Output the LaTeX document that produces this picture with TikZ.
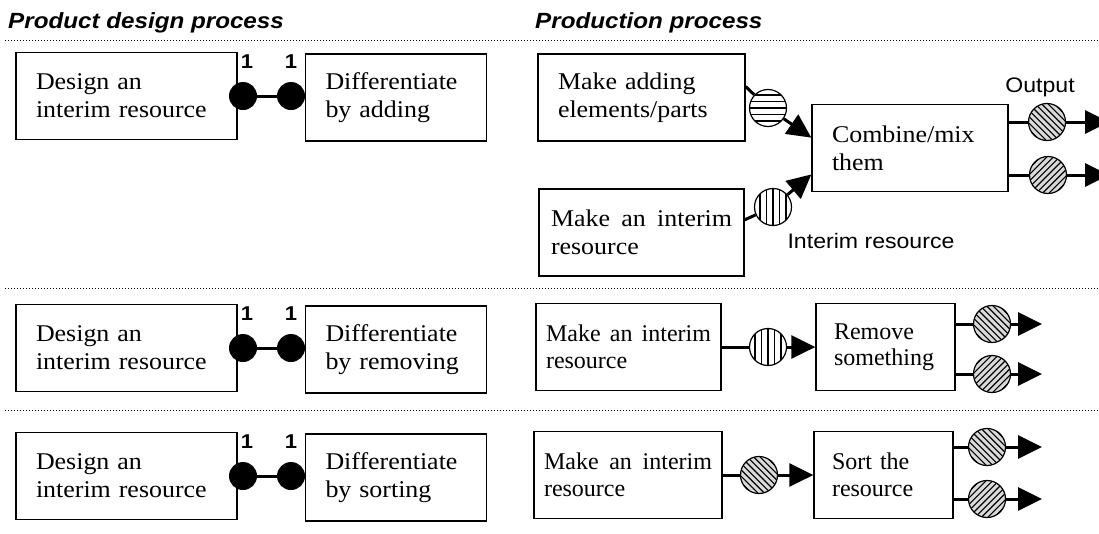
\documentclass[tikz,border=0pt]{standalone}
\usepackage{fontspec}
\setmainfont{Liberation Serif}[FakeStretch=1.08]
\setsansfont{Liberation Sans}[FakeStretch=1.1]
\newfontfamily\narrowrm{Liberation Serif}
\usetikzlibrary{positioning,arrows.meta}
\begin{document}
\begin{tikzpicture}[x=1pt,y=-1pt,
    box/.style={draw, line width=1.3pt, minimum height=87pt, inner xsep=20pt, text width=#1, align=left, font=\fontsize{24}{28}\selectfont},
    jbox/.style={box=#1, align=justify, inner xsep=10pt},
    narrow/.style={font=\narrowrm\fontsize{24}{26.5}\selectfont},
    knob/.style={circle, fill, inner sep=0pt, minimum size=28pt},
    num/.style={font=\sffamily\bfseries\fontsize{20}{20}\selectfont, inner sep=0pt},
    lbl/.style={font=\sffamily\fontsize{21}{21}\selectfont, inner sep=0pt},
    title/.style={font=\sffamily\bfseries\itshape\fontsize{22}{22}\selectfont, inner sep=0pt},
    res/.style={circle, draw, line width=1.2pt, minimum size=37pt, inner sep=0pt},
    % stripes at angle #1 (y axis points down), #2 apart
    hatch/.style 2 args={res, path picture={
        \foreach \k in {-8,...,8}
            \draw[line width=1.1pt] (path picture bounding box.center) ++(#1+90:\k*#2) ++(#1:-25) -- ++(#1:50);}},
    hlines/.style={hatch={0}{6.5}, fill=white},
    vlines/.style={hatch={90}{6.5}, fill=white},
    nwlines/.style={hatch={45}{4.5}, fill=gray!30},
    nelines/.style={hatch={-45}{4.5}, fill=gray!30},
    rule/.style={line width=0.9pt, dash pattern=on 1pt off 2pt},
    link/.style={line width=3pt},
    arr/.style={link, -{Triangle[length=24pt,width=23pt]}}]
    \useasboundingbox (0,0) rectangle (1099,533);
    \node[title, anchor=base west] (t1) at (8,28) {Product design process};
    \node[title, anchor=base west] (t2) at (535,28) {Production process};
    \foreach \y in {40,288,410} \draw[rule] (5,\y) -- (1099,\y);
    % design side
    \foreach \i/\y/\how in {1/96/adding, 2/348/removing, 3/476/sorting} {
        \node[box=181pt] (d\i) at (126.5,\y) {Design an\\ interim resource};
        \node[box=141pt] (f\i) at (396,\y+1.5) {Differentiate\\ by \how};
        \node[knob] (a\i) at (243,\y) {};
        \node[knob] (b\i) at (291,\y) {};
        \draw[link] (a\i) -- (b\i);
        \node[num, above=13pt of a\i, xshift=4pt] (na\i) {1};
        \node[num, above=13pt of b\i] (nb\i) {1};
    }
    % production: adding
    \node[box=167pt] (ma) at (641.5,97.5) {Make adding\\ elements/parts};
    \node[jbox=181pt, inner xsep=12pt] (mi) at (641.5,232.5) {Make an interim\linebreak resource};
    \node[box=156pt] (cm) at (910,148) {Combine/mix\\ them};
    \node[hlines] (r1) at (768,108) {};
    \node[vlines] (r2) at (773,207) {};
    \draw[link] (ma.6) -- (r1); \draw[arr] (r1) -- (cm.174);
    \draw[link] (mi.7) -- (r2); \draw[arr] (r2) -- (cm.195);
    \node[nwlines] (o1) at (1047,122) {};
    \node[nelines] (o2) at (1048,175) {};
    \coordinate (e1) at (1109,122);
    \coordinate (e2) at (1109,175);
    \draw[link] (cm.east |- o1) -- (o1); \draw[arr] (o1) -- (e1);
    \draw[link] (cm.east |- o2) -- (o2); \draw[arr] (o2) -- (e2);
    \node[lbl, anchor=base] (olab) at (1040,92) {Output};
    \node[lbl, anchor=base] (ilab) at (871,248) {Interim resource};
    % production: removing
    \node[jbox=165pt, narrow] (mk2) at (628.5,347) {Make an interim\linebreak resource};
    \node[box=103pt, narrow, inner xsep=18pt] (rm) at (885.5,347) {Remove\\ something};
    \node[vlines] (r3) at (768,347) {};
    \draw[link] (mk2) -- (r3); \draw[arr] (r3) -- (rm);
    \node[nwlines] (o3) at (992,324) {};
    \node[nelines] (o4) at (992,374) {};
    \coordinate (e3) at (1042,324);
    \coordinate (e4) at (1042,374);
    \draw[link] (rm.east |- o3) -- (o3); \draw[arr] (o3) -- (e3);
    \draw[link] (rm.east |- o4) -- (o4); \draw[arr] (o4) -- (e4);
    % production: sorting
    \node[jbox=168pt, narrow] (mk3) at (628,475) {Make an interim\linebreak resource};
    \node[box=103pt, narrow, inner xsep=18pt] (st) at (883.5,475) {Sort the\\ resource};
    \node[nwlines] (r4) at (759,475) {};
    \draw[link] (mk3) -- (r4); \draw[arr] (r4) -- (st);
    \node[nwlines] (o5) at (987,447) {};
    \node[nelines] (o6) at (987,499) {};
    \coordinate (e5) at (1042,447);
    \coordinate (e6) at (1042,499);
    \draw[link] (st.east |- o5) -- (o5); \draw[arr] (o5) -- (e5);
    \draw[link] (st.east |- o6) -- (o6); \draw[arr] (o6) -- (e6);
\end{tikzpicture}
\end{document}
